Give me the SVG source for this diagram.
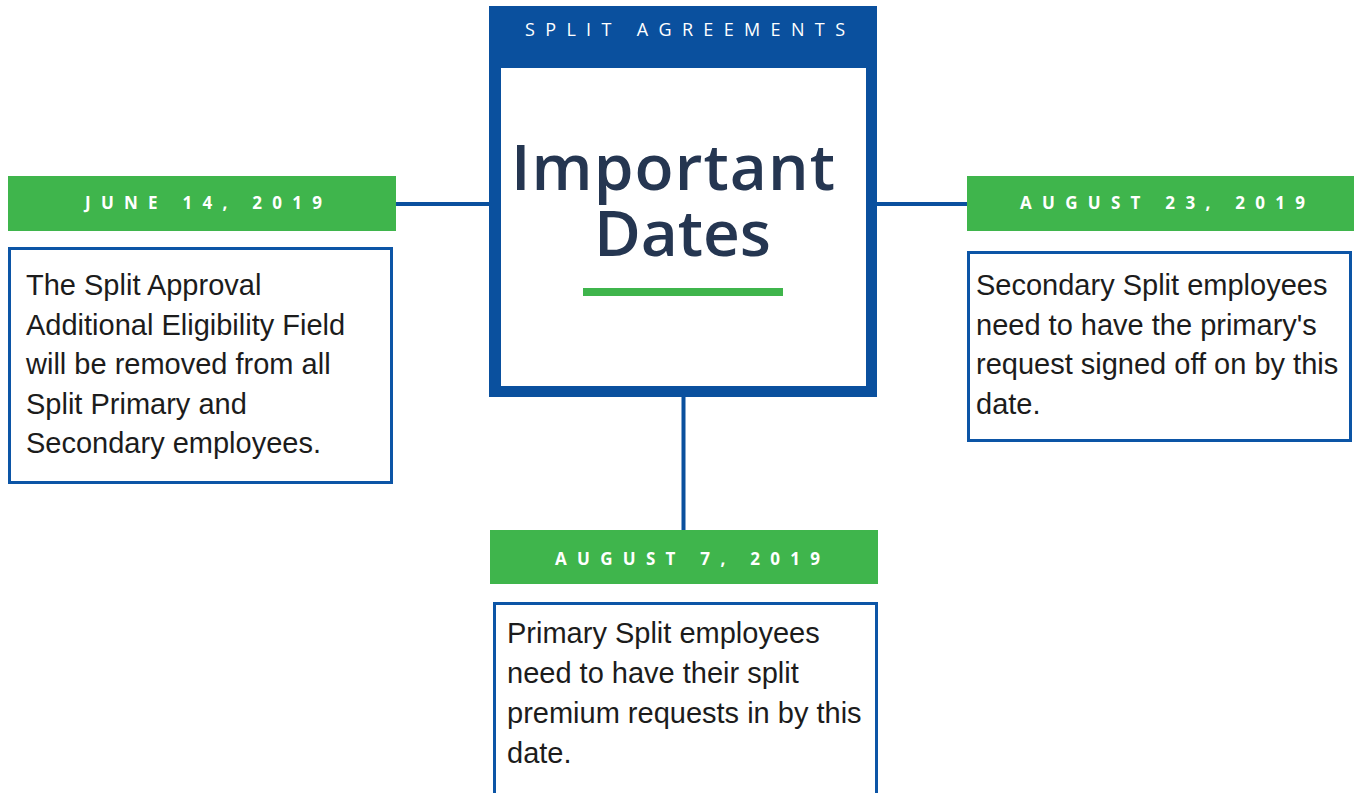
<svg xmlns="http://www.w3.org/2000/svg" width="1356" height="793" viewBox="0 0 1356 793">
<style>
.conn{stroke:#0a509e;stroke-width:4;fill:none}
.band{fill:#3fb54c}
.date{font-family:"Open Sans","Liberation Sans",sans-serif;font-weight:700;font-size:17px;fill:#ffffff}
.box{fill:#ffffff;stroke:#0c55a6;stroke-width:3}
.body{font-family:"Liberation Sans",Arial,sans-serif;font-size:29px;fill:#1c1c1c}
.title{font-family:"Open Sans","Liberation Sans",sans-serif;font-weight:600;font-size:64px;fill:#253651}
</style>
<rect width="1356" height="793" fill="#ffffff"/>
<g id="connectors">
<line class="conn" x1="396" y1="204" x2="490" y2="204"/>
<line class="conn" x1="876" y1="204" x2="968" y2="204"/>
<line class="conn" x1="683.5" y1="396" x2="683.5" y2="531"/>
</g>
<g id="center">
<rect x="489" y="6" width="388" height="391" fill="#0a509e"/>
<rect x="501" y="68" width="365" height="318" fill="#ffffff"/>
<text x="525" y="36" font-family="'Open Sans','Liberation Sans',sans-serif" font-size="18" fill="#ffffff" textLength="320" lengthAdjust="spacing">SPLIT AGREEMENTS</text>
<text class="title" x="511" y="190" textLength="324" lengthAdjust="spacing">Important</text>
<text class="title" x="594" y="256" textLength="177" lengthAdjust="spacing">Dates</text>
<rect x="583" y="288" width="200" height="8" fill="#3fb54c"/>
</g>
<g id="june14">
<rect class="band" x="8" y="176" width="388" height="55"/>
<text class="date" x="85" y="209" textLength="237" lengthAdjust="spacing">JUNE 14, 2019</text>
<rect class="box" x="9.5" y="248.5" width="382" height="234"/>
<text class="body"><tspan x="26" y="295">The Split Approval</tspan><tspan x="26" y="334.5">Additional Eligibility Field</tspan><tspan x="26" y="374">will be removed from all</tspan><tspan x="26" y="413.5">Split Primary and</tspan><tspan x="26" y="453">Secondary employees.</tspan></text>
</g>
<g id="aug23">
<rect class="band" x="967" y="176" width="387" height="55"/>
<text class="date" x="1020" y="209" textLength="285" lengthAdjust="spacing">AUGUST 23, 2019</text>
<rect class="box" x="968.5" y="252.5" width="382" height="188"/>
<text class="body"><tspan x="976" y="295">Secondary Split employees</tspan><tspan x="976" y="334.5">need to have the primary's</tspan><tspan x="976" y="374">request signed off on by this</tspan><tspan x="976" y="413.5">date.</tspan></text>
</g>
<g id="aug7">
<rect class="band" x="490" y="530" width="388" height="54"/>
<text class="date" x="555" y="565" textLength="265" lengthAdjust="spacing">AUGUST 7, 2019</text>
<rect class="box" x="494.5" y="603.5" width="382" height="192"/>
<text class="body"><tspan x="507" y="643">Primary Split employees</tspan><tspan x="507" y="683">need to have their split</tspan><tspan x="507" y="723">premium requests in by this</tspan><tspan x="507" y="763">date.</tspan></text>
</g>
</svg>
